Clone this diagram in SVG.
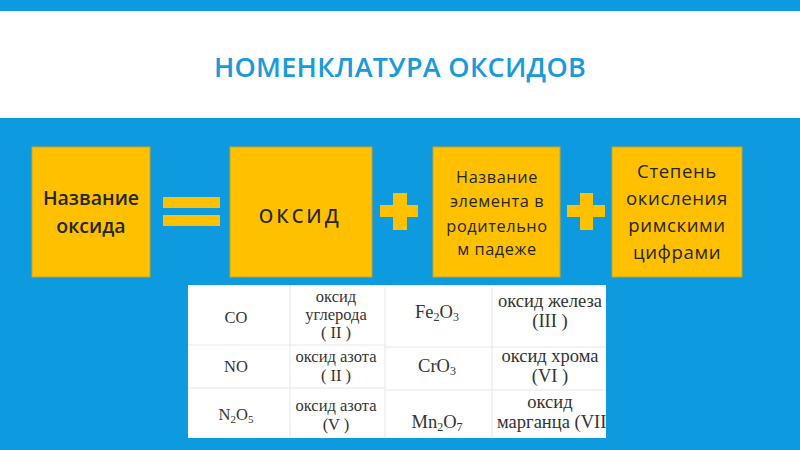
<svg xmlns="http://www.w3.org/2000/svg" width="800" height="450" viewBox="0 0 800 450">
<defs>
<style>
.box{fill:#ffc000;stroke:#c9a22a;stroke-width:1}
.sym{fill:#ffc000}
.t{font-family:"Open Sans","Noto Sans","DejaVu Sans",sans-serif;fill:#262626;text-anchor:middle}
.tb{font-family:"Liberation Serif","Times New Roman",serif;fill:#333;font-size:16.5px;text-anchor:middle}
.tr{font-size:18.5px}
.grid{stroke:#e6e6e6;stroke-width:1}
</style>
<clipPath id="tclip"><rect x="188" y="285" width="418" height="153"/></clipPath>
</defs>
<rect x="0" y="0" width="800" height="450" fill="#0e9ade"/>
<rect x="0" y="11" width="800" height="107" fill="#ffffff"/>
<text x="400" y="77" font-family="'Open Sans','Noto Sans',sans-serif" font-size="27" font-weight="600" fill="#1a9ad6" text-anchor="middle" letter-spacing="0.3">НОМЕНКЛАТУРА ОКСИДОВ</text>

<g id="node-name">
<rect class="box" x="32" y="147" width="118" height="130"/>
<text class="t" x="91" y="205" font-size="19.5" font-weight="600">Название</text>
<text class="t" x="91" y="233" font-size="19.5" font-weight="600">оксида</text>
</g>
<g id="node-oxide">
<rect class="box" x="230" y="147" width="142" height="130"/>
<text class="t" x="300" y="223" font-size="25" letter-spacing="2.6">оксид</text>
</g>
<g id="node-element">
<rect class="box" x="433" y="147" width="127" height="130"/>
<text class="t" x="497" y="183" font-size="16.3" letter-spacing="0.6">Название</text>
<text class="t" x="497" y="207" font-size="16.3" letter-spacing="0.6">элемента в</text>
<text class="t" x="497" y="232" font-size="16.3" letter-spacing="0.6">родительно</text>
<text class="t" x="497" y="255" font-size="16.3" letter-spacing="0.6">м падеже</text>
</g>
<g id="node-degree">
<rect class="box" x="612" y="147" width="130" height="130"/>
<text class="t" x="677" y="178" font-size="18.6" letter-spacing="0.6">Степень</text>
<text class="t" x="677" y="205" font-size="18.6" letter-spacing="0.6">окисления</text>
<text class="t" x="677" y="232" font-size="18.6" letter-spacing="0.6">римскими</text>
<text class="t" x="677" y="259" font-size="18.6" letter-spacing="0.6">цифрами</text>
</g>

<g id="connectors">
<rect class="sym" x="163" y="197" width="57" height="11"/>
<rect class="sym" x="163" y="215" width="57" height="11"/>
<rect class="sym" x="380" y="205" width="38" height="12"/>
<rect class="sym" x="393" y="193" width="14" height="37"/>
<rect class="sym" x="567" y="205" width="38" height="12"/>
<rect class="sym" x="580" y="193" width="13" height="37"/>
</g>

<g id="table">
<rect x="188" y="285" width="418" height="153" fill="#ffffff"/>
<line class="grid" x1="385" y1="285" x2="385" y2="438"/>
<line class="grid" x1="290" y1="285" x2="290" y2="438"/>
<line class="grid" x1="492" y1="285" x2="492" y2="438"/>
<line class="grid" x1="188" y1="345" x2="385" y2="345"/>
<line class="grid" x1="188" y1="388" x2="385" y2="388"/>
<line class="grid" x1="385" y1="347" x2="606" y2="347"/>
<line class="grid" x1="385" y1="390" x2="606" y2="390"/>
<g clip-path="url(#tclip)">
<text class="tb" x="236" y="323">CO</text>
<text class="tb" x="336" y="302">оксид</text>
<text class="tb" x="336" y="320">углерода</text>
<text class="tb" x="336" y="338">( II )</text>
<text class="tb" x="236" y="372">NO</text>
<text class="tb" x="336" y="362">оксид азота</text>
<text class="tb" x="336" y="381">( II )</text>
<text class="tb" x="236" y="420">N<tspan font-size="11" dy="3">2</tspan><tspan dy="-3">O</tspan><tspan font-size="11" dy="3">5</tspan></text>
<text class="tb" x="336" y="411">оксид азота</text>
<text class="tb" x="336" y="430">(V )</text>
<text class="tb tr" x="437" y="318">Fe<tspan font-size="12" dy="3">2</tspan><tspan dy="-3">O</tspan><tspan font-size="12" dy="3">3</tspan></text>
<text class="tb tr" x="550" y="307">оксид железа</text>
<text class="tb tr" x="550" y="327">(III )</text>
<text class="tb tr" x="437" y="372">CrO<tspan font-size="12" dy="3">3</tspan></text>
<text class="tb tr" x="550" y="362">оксид хрома</text>
<text class="tb tr" x="550" y="382">(VI )</text>
<text class="tb tr" x="437" y="428">Mn<tspan font-size="12" dy="3">2</tspan><tspan dy="-3">O</tspan><tspan font-size="12" dy="3">7</tspan></text>
<text class="tb tr" x="550" y="408">оксид</text>
<text class="tb tr" x="497" y="428" style="text-anchor:start">марганца (VII</text>
</g>
</g>
</svg>
